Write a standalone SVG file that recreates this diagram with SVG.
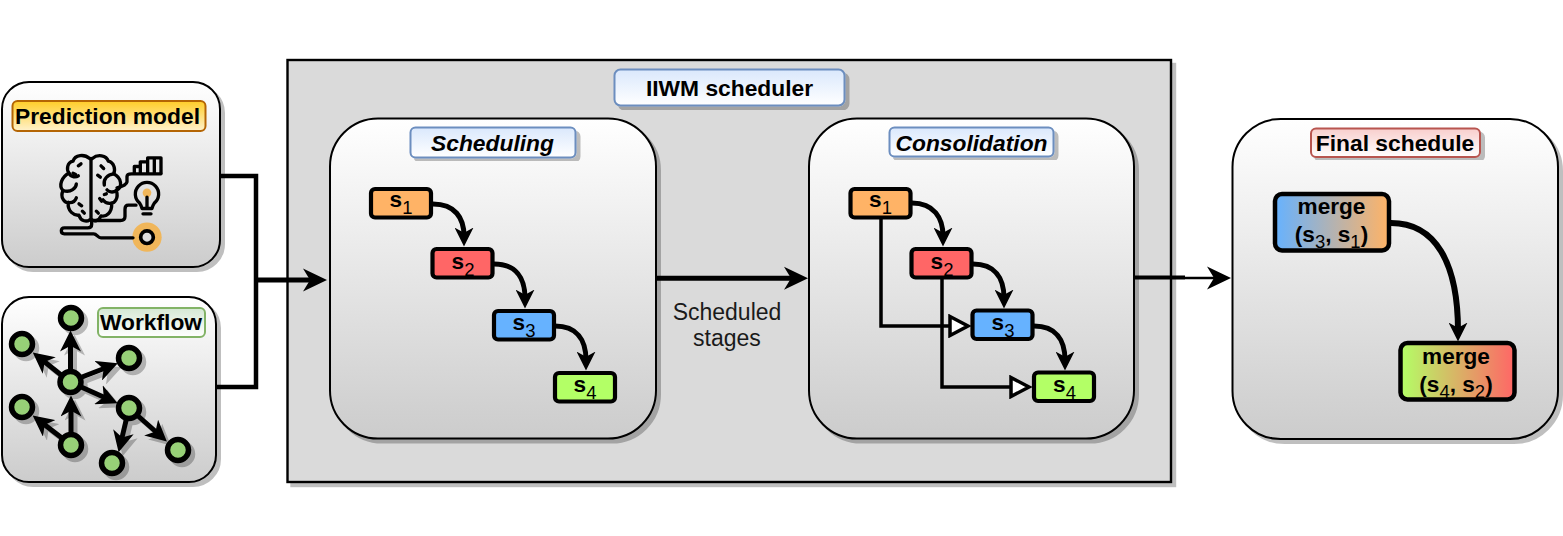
<svg xmlns="http://www.w3.org/2000/svg" width="1563" height="536" viewBox="0 0 1563 536">
<style>
text{font-family:"Liberation Sans",Arial,sans-serif;fill:#000}
.lb{font-weight:bold;font-size:22.800px;text-anchor:middle}
.it{font-style:italic}
.s{font-weight:bold;font-size:22.600px;text-anchor:middle}
.sub{font-weight:normal;font-size:18.500px}
.panel{fill:url(#gGrey);stroke:#000;stroke-width:2;filter:url(#sh)}
.task{stroke:#000;stroke-width:4.200}
.c4{fill:none;stroke:#000;stroke-width:5;marker-end:url(#arr)}
.c5{fill:none;stroke:#000;stroke-width:6;marker-end:url(#arr)}
.cL{fill:none;stroke:#000;stroke-width:5;marker-end:url(#arrL)}
.c3{fill:none;stroke:#000;stroke-width:3.500;marker-end:url(#tri)}
.ln{fill:none;stroke:#000;stroke-width:4.500}
.ic{fill:none;stroke:#000;stroke-width:10;stroke-linecap:round;stroke-linejoin:round}
.gn{fill:#97d077;stroke:#000;stroke-width:5.500}
.ge{fill:none;stroke:#000;stroke-width:5;marker-end:url(#arrG)}
</style>
<defs>
<filter id="sh" x="-5%" y="-5%" width="115%" height="115%"><feDropShadow dx="4" dy="4" stdDeviation="0" flood-color="#000" flood-opacity=".25"/></filter>
<linearGradient id="gGrey" x1="0" y1="0" x2="0" y2="1"><stop offset="0" stop-color="#fff"/><stop offset="1" stop-color="#ccc"/></linearGradient>
<linearGradient id="gBlue" x1="0" y1="0" x2="0" y2="1"><stop offset="0" stop-color="#dae8fc"/><stop offset="1" stop-color="#fff"/></linearGradient>
<linearGradient id="gGold" x1="0" y1="0" x2="0" y2="1"><stop offset="0" stop-color="#ffcd28"/><stop offset="1" stop-color="#fff2cc"/></linearGradient>
<linearGradient id="gGreen" x1="0" y1="0" x2="0" y2="1"><stop offset="0" stop-color="#d5e8d4"/><stop offset="1" stop-color="#fff"/></linearGradient>
<linearGradient id="gRed" x1="0" y1="0" x2="0" y2="1"><stop offset="0" stop-color="#f8cecc"/><stop offset="1" stop-color="#fff"/></linearGradient>
<linearGradient id="gM1"><stop offset="0" stop-color="#66b2ff"/><stop offset="1" stop-color="#ffb366"/></linearGradient>
<linearGradient id="gM2"><stop offset="0" stop-color="#b3ff66"/><stop offset="1" stop-color="#ff6666"/></linearGradient>
<marker id="arr" markerUnits="userSpaceOnUse" viewBox="0 0 18 18" markerWidth="19" markerHeight="19" refX="8" refY="9" orient="auto"><path d="M0 0L18 9L0 18L5 9Z" fill="#000"/></marker>
<marker id="arrG" markerUnits="userSpaceOnUse" viewBox="0 0 18 18" markerWidth="21" markerHeight="21" refX="9" refY="9" orient="auto"><path d="M0 0L18 9L0 18L5 9Z" fill="#000"/></marker>
<marker id="arrL" markerUnits="userSpaceOnUse" viewBox="0 0 24 24" markerWidth="24" markerHeight="24" refX="10" refY="12" orient="auto"><path d="M0 .5L24 12L0 23.500L7 12Z" fill="#000"/></marker>
<marker id="tri" markerUnits="userSpaceOnUse" viewBox="0 0 24 24" markerWidth="24" markerHeight="24" refX="2" refY="12" orient="auto"><path d="M2 2.500L20 12L2 21.500Z" fill="#fff" stroke="#000" stroke-width="3.500"/></marker>
</defs>

<g id="iiwm-scheduler">
<rect x="287.500" y="60" width="883.500" height="422" fill="#dadada" stroke="#000" stroke-width="2.400" filter="url(#sh)"/>
<rect x="614.500" y="69.500" width="230" height="36" rx="6" fill="url(#gBlue)" stroke="#6c8ebf" stroke-width="2" filter="url(#sh)"/>
<text class="lb" x="729.500" y="96">IIWM scheduler</text>
</g>

<g id="prediction-model">
<rect class="panel" x="2" y="82" width="218" height="185" rx="27"/>
<rect x="12.500" y="101" width="193" height="30" rx="5" fill="url(#gGold)" stroke="#b46504" stroke-width="2"/>
<text class="lb" x="107.500" y="124">Prediction model</text>
<g transform="translate(51 144.500) scale(.3333)">
<circle cx="288" cy="278" r="44" fill="#f0b65a"/>
<circle cx="288" cy="278" r="19" fill="#ddd" stroke="#000" stroke-width="11"/>
<circle cx="288" cy="145" r="13" fill="#f0b65a"/>
<g class="ic">
<path d="M120 42V228"/>
<path d="M116 42C100 28 72 30 66 50C48 54 46 76 54 86C32 96 22 124 36 138C26 160 42 176 52 174C48 200 70 214 84 212C90 232 108 232 116 226"/>
<path d="M124 42C140 28 166 32 172 50C190 54 194 76 188 88C212 100 216 128 196 138C204 162 190 176 182 176C184 206 164 218 150 214C142 232 130 230 124 226"/>
<path d="M54 86C60 100 76 98 82 94M36 138C60 146 76 130 76 118M52 174C64 176 72 170 76 160M188 88C170 90 156 104 160 122M196 138C186 146 172 142 168 136M182 176C170 178 160 172 156 166"/>
<path d="M90 58l-8 6M66 86l8 4M84 178l8 6M94 200l6 6M150 64l8 8M140 92l8 6M146 162l6 8M136 200l6 6M160 150l6-2"/>
<path d="M198 130C214 126 226 122 228 112V96C228 90 236 88 242 88H330"/>
<path d="M250 88V66H268V88M268 66V52H290V88M290 52V40H310V88M310 40H330V88" stroke-linecap="butt"/>
<path d="M266 176A35 35 0 1 1 310 176C306 182 304 186 303 192H273C272 186 270 182 266 176Z"/>
<path d="M288 158V190M276 208H300"/>
<path d="M255 182H232C224 182 222 188 222 194V216C222 224 216 228 208 228H130"/>
<path d="M122 228V240C122 246 118 250 110 250H40C28 250 28 268 40 268H128C138 268 140 280 150 280H246"/>
</g></g>
</g>

<g id="workflow">
<rect class="panel" x="2" y="297" width="214" height="185" rx="27"/>
<rect x="98" y="308" width="107" height="29" rx="5" fill="url(#gGreen)" stroke="#82b366" stroke-width="2"/>
<text class="lb" x="151" y="330">Workflow</text>
<g id="workflow-graph" filter="url(#sh)">
<path class="ge" d="M70.500 382V341"/>
<path class="ge" d="M70 382L41 359"/>
<path class="ge" d="M82 377L108 367"/>
<path class="ge" d="M70 382L108 399"/>
<path class="ge" d="M71 445V406"/>
<path class="ge" d="M71 445L41 422"/>
<path class="ge" d="M129 408L121 442"/>
<path class="ge" d="M129 408L159 434.500"/>
<circle class="gn" cx="71" cy="318" r="10.500"/>
<circle class="gn" cx="22" cy="344" r="10.500"/>
<circle class="gn" cx="129" cy="358" r="10.500"/>
<circle class="gn" cx="70.500" cy="382" r="10.500"/>
<circle class="gn" cx="22" cy="407" r="10.500"/>
<circle class="gn" cx="129" cy="408" r="10.500"/>
<circle class="gn" cx="71" cy="445" r="10.500"/>
<circle class="gn" cx="112" cy="463" r="10.500"/>
<circle class="gn" cx="178" cy="450" r="10.500"/>
</g>
</g>

<g id="scheduling">
<rect class="panel" x="330" y="118.500" width="326" height="320" rx="48"/>
<rect x="410.500" y="127.500" width="165" height="30" rx="5" fill="url(#gBlue)" stroke="#6c8ebf" stroke-width="2" filter="url(#sh)"/>
<text class="lb it" x="492.500" y="151">Scheduling</text>
<g id="sch-s1"><rect class="task" x="371" y="189" width="60" height="28.500" rx="4" fill="#ffb366"/><text class="s" x="401" y="207">s<tspan class="sub" dy="7">1</tspan></text></g>
<g id="sch-s2"><rect class="task" x="432.500" y="249" width="60" height="28.500" rx="4" fill="#ff6666"/><text class="s" x="463" y="269">s<tspan class="sub" dy="7">2</tspan></text></g>
<g id="sch-s3"><rect class="task" x="494" y="311" width="60" height="28.500" rx="4" fill="#66b2ff"/><text class="s" x="524" y="330">s<tspan class="sub" dy="7">3</tspan></text></g>
<g id="sch-s4"><rect class="task" x="555" y="373" width="60" height="28.500" rx="4" fill="#b3ff66"/><text class="s" x="585" y="391.500">s<tspan class="sub" dy="7">4</tspan></text></g>
</g>

<g id="consolidation">
<rect class="panel" x="809" y="118.500" width="325" height="320" rx="48"/>
<rect x="889.500" y="127.500" width="164" height="29" rx="5" fill="url(#gBlue)" stroke="#6c8ebf" stroke-width="2" filter="url(#sh)"/>
<text class="lb it" x="971.500" y="151">Consolidation</text>
<g id="con-s1"><rect class="task" x="850.500" y="189" width="60" height="28.500" rx="4" fill="#ffb366"/><text class="s" x="880.500" y="207">s<tspan class="sub" dy="7">1</tspan></text></g>
<g id="con-s2"><rect class="task" x="911.500" y="249" width="60" height="28.500" rx="4" fill="#ff6666"/><text class="s" x="942" y="269">s<tspan class="sub" dy="7">2</tspan></text></g>
<g id="con-s3"><rect class="task" x="972.500" y="310.500" width="60" height="28.500" rx="4" fill="#66b2ff"/><text class="s" x="1003" y="330">s<tspan class="sub" dy="7">3</tspan></text></g>
<g id="con-s4"><rect class="task" x="1034" y="372.500" width="60" height="28.500" rx="4" fill="#b3ff66"/><text class="s" x="1064.500" y="391.500">s<tspan class="sub" dy="7">4</tspan></text></g>
</g>

<g id="final-schedule">
<rect class="panel" x="1232.500" y="119" width="325.500" height="320" rx="48"/>
<rect x="1311" y="128.500" width="169" height="28.500" rx="5" fill="url(#gRed)" stroke="#b85450" stroke-width="2" filter="url(#sh)"/>
<text class="lb" x="1395" y="151">Final schedule</text>
<g id="merge-s3-s1"><rect x="1275" y="194" width="114" height="56.500" rx="7" fill="url(#gM1)" stroke="#000" stroke-width="4.500"/>
<text class="s" x="1331.500" y="214">merge</text><text class="s" x="1331.500" y="241.500">(s<tspan class="sub" dy="6.500">3</tspan><tspan dy="-6.500">, s</tspan><tspan class="sub" dy="6.500">1</tspan><tspan dy="-6.500">)</tspan></text></g>
<g id="merge-s4-s2"><rect x="1400.500" y="343" width="114" height="56.500" rx="7" fill="url(#gM2)" stroke="#000" stroke-width="4.500"/>
<text class="s" x="1456" y="363.500">merge</text><text class="s" x="1456" y="391.500">(s<tspan class="sub" dy="6.500">4</tspan><tspan dy="-6.500">, s</tspan><tspan class="sub" dy="6.500">2</tspan><tspan dy="-6.500">)</tspan></text></g>
</g>

<g id="connectors">
<path class="ln" d="M220 176H256V387H216"/>
<path class="cL" d="M256 280H313"/>
<path class="cL" d="M656 278.300H794"/>
<path fill="none" stroke="#000" stroke-width="4" d="M1134 277.500H1185"/>
<path class="cL" style="stroke-width:2.500" d="M1185 278H1217"/>
<path class="c4" d="M433 204C455 204 464 218 464 236"/>
<path class="c4" d="M494 264C516 264 525 278 525 298"/>
<path class="c4" d="M555 326C577 326 586 340 586 360"/>
<path class="c4" d="M912 203C934 203 943 218 943 236"/>
<path class="c4" d="M973 264C995 264 1004 278 1004 298"/>
<path class="c4" d="M1034 326C1056 326 1065 340 1065 360"/>
<path class="c3" d="M881 219V326H950"/>
<path class="c3" d="M942 279V387H1011"/>
<path class="c5" d="M1391 223C1435 223 1458 262 1458 331"/>
</g>

<g id="edge-label">
<text x="727" y="320" font-size="23" text-anchor="middle" style="fill:#1a1a1a">Scheduled</text>
<text x="727" y="346" font-size="23" text-anchor="middle" style="fill:#1a1a1a">stages</text>
</g>
</svg>
